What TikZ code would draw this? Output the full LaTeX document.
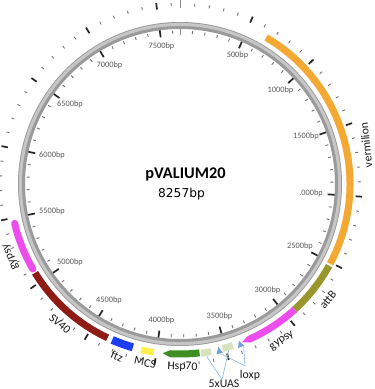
\documentclass[tikz,border=0pt]{standalone}
\usepackage{fontspec}
\setmainfont{Carlito}
\newfontfamily\dvsans{DejaVu Sans}
\definecolor{ringdark}{HTML}{9A9A9A}
\definecolor{ringlight}{HTML}{C6C6C6}
\definecolor{vermcol}{HTML}{F5A832}
\definecolor{attbcol}{HTML}{9A962E}
\definecolor{gypsycol}{HTML}{EE4DEE}
\definecolor{svcol}{HTML}{8E1B14}
\definecolor{ftzcol}{HTML}{1C3CF5}
\definecolor{mcscol}{HTML}{FFF04A}
\definecolor{hspcol}{HTML}{3E8E22}
\definecolor{uascol}{HTML}{D7E3BF}
\definecolor{loxcol}{HTML}{6FA0DA}
\definecolor{leadcol}{HTML}{8EB3DE}
\definecolor{ticklab}{HTML}{5A5A5A}
\newcommand\featband[5]{%
  \fill[#1] ({90-#2}:#5) arc[start angle={90-#2}, end angle={90-#3}, radius=#5]
    -- ({90-#3}:#4) arc[start angle={90-#3}, end angle={90-#2}, radius=#4] -- cycle;}
\newcommand\featarrow[5]{% colour, start, head start, tip, (unused)
  \fill[#1] ({90-#2}:173.5) arc[start angle={90-#2}, end angle={90-#3}, radius=173.5]
    -- ({90-#4}:170) -- ({90-#3}:166.5)
    arc[start angle={90-#3}, end angle={90-#2}, radius=166.5] -- cycle;}
\newcommand\loxtri[1]{%
  \fill[loxcol] ({90-#1+1.1}:174) -- ({90-#1-1.1}:174) -- ({90-#1}:167.5) -- cycle;}
\begin{document}
\begin{tikzpicture}[x=1pt,y=1pt,
  longtick/.style={line width=1.7pt,black!85},
  shorttick/.style={line width=0.9pt,black!55},
  zerotick/.style={line width=0.9pt,black!45},
  bplab/.style={font=\fontsize{8.3}{9}\selectfont,text=ticklab,inner sep=0pt},
  featlab/.style={font=\fontsize{11.8}{13}\selectfont,text=black!90,inner sep=0pt},
  leader/.style={draw=leadcol,line width=0.6pt}]
\useasboundingbox (-180,-205) rectangle (195,184);
\fill[white] (-180,-205) rectangle (195,184);

% ticks
\foreach \i in {1,...,76}{
  \pgfmathsetmacro{\ang}{90-4.7*\i}
  \pgfmathtruncatemacro{\m}{mod(\i,5)}
  \ifnum\m=0
    \draw[longtick] (\ang:148) -- (\ang:155.5);
    \draw[longtick] (\ang:176) -- (\ang:182.5);
  \else
    \draw[shorttick] (\ang:150.5) -- (\ang:153.5);
    \draw[shorttick] (\ang:178) -- (\ang:181);
  \fi
}
\draw[zerotick] (90:149) -- (90:156);
\draw[zerotick] (90:176) -- (90:184);

% backbone ring
\draw[line width=7pt,ringdark] (0,0) circle (158.5);
\draw[line width=3pt,ringlight] (0,0) circle (159.6);

% features
\featband{vermcol}{30.5}{118}{166.5}{173.5}
\featband{attbcol}{118.7}{137.6}{166.5}{173.5}
\featarrow{gypsycol}{137.6}{156}{158.6}{}
\loxtri{159.4}
\featband{uascol}{161.9}{165.5}{166.5}{173.5}
\loxtri{166.8}
\featband{uascol}{169.5}{172.9}{167}{174}
\featarrow{hspcol}{173.4}{183.3}{185.8}{}
\featband{mcscol}{188.8}{193.2}{167}{173.5}
\featband{ftzcol}{196.1}{203.5}{166}{174}
\draw[gypsycol,line width=7pt,line cap=round] ({90-240}:170) arc[start angle={90-240}, end angle={90-256.6}, radius=170];
\featband{svcol}{205.2}{238.5}{166.5}{173.5}

% anchor points for leader lines
\coordinate (uasA) at ({90-163.7}:173.5);
\coordinate (uasB) at ({90-171.2}:174.5);
\coordinate (loxA) at ({90-158.6}:174.5);
\coordinate (loxB) at ({90-166.8}:174);

% tick labels
\node[bplab] (b500) at (57.5,128.5) {500bp};
\node[bplab] (b1000) at (100.5,94) {1000bp};
\node[bplab] (b1500) at (126,47.5) {1500bp};
\node[bplab,anchor=east] (b2000) at (143,-9.5) {.000bp};
\node[bplab] (b2500) at (120,-62) {2500bp};
\node[bplab] (b3000) at (87.5,-106) {3000bp};
\node[bplab] (b3500) at (39.5,-132.5) {3500bp};
\node[bplab] (b4000) at (-18.5,-136) {4000bp};
\node[bplab] (b4500) at (-71,-116.5) {4500bp};
\node[bplab] (b5000) at (-110,-78.5) {5000bp};
\node[bplab] (b5500) at (-128,-27) {5500bp};
\node[bplab] (b6000) at (-128,28.5) {6000bp};
\node[bplab] (b6500) at (-110,79.5) {6500bp};
\node[bplab] (b7000) at (-70.5,118.5) {7000bp};
\node[bplab] (b7500) at (-18.5,138) {7500bp};

% title
\node[inner sep=0pt,anchor=base,font=\fontsize{16.3}{18}\selectfont\bfseries] (title) at (5.5,6) {pVALIUM20};
\node[inner sep=0pt,anchor=base,font=\dvsans\fontsize{12.2}{14}\selectfont] (size) at (1.5,-13) {8257bp};

% feature labels
\node[featlab,rotate=96] (verm) at (186,39) {vermilion};
\node[featlab,rotate=50] (attb) at (148,-116) {attB};
\node[featlab,rotate=34] (gypR) at (102,-157) {gypsy};
\node[featlab] (lox) at (70,-191) {loxp};
\node[featlab] (uas) at (44,-199.5) {5xUAS};
\node[featlab,rotate=-2] (hsp) at (2.5,-183) {Hsp70};
\node[featlab,rotate=-12] (mcs) at (-35,-178.5) {MCS};
\node[featlab,rotate=-24] (ftz) at (-63,-172) {ftz};
\node[featlab,rotate=-40] (sv) at (-120,-140) {SV40};
\node[featlab,rotate=113] (gypL) at (-169,-73) {gypsy};

% leader lines
\draw[leader] ([xshift=-2pt]uas.north) -- (uasA);
\draw[leader] ([xshift=-2pt]uas.north) -- (uasB);
\draw[leader] ([xshift=-5pt,yshift=4pt]lox.north) -- (loxA);
\draw[leader] ([xshift=-5pt,yshift=4pt]lox.north) -- (loxB);
\end{tikzpicture}
\end{document}
